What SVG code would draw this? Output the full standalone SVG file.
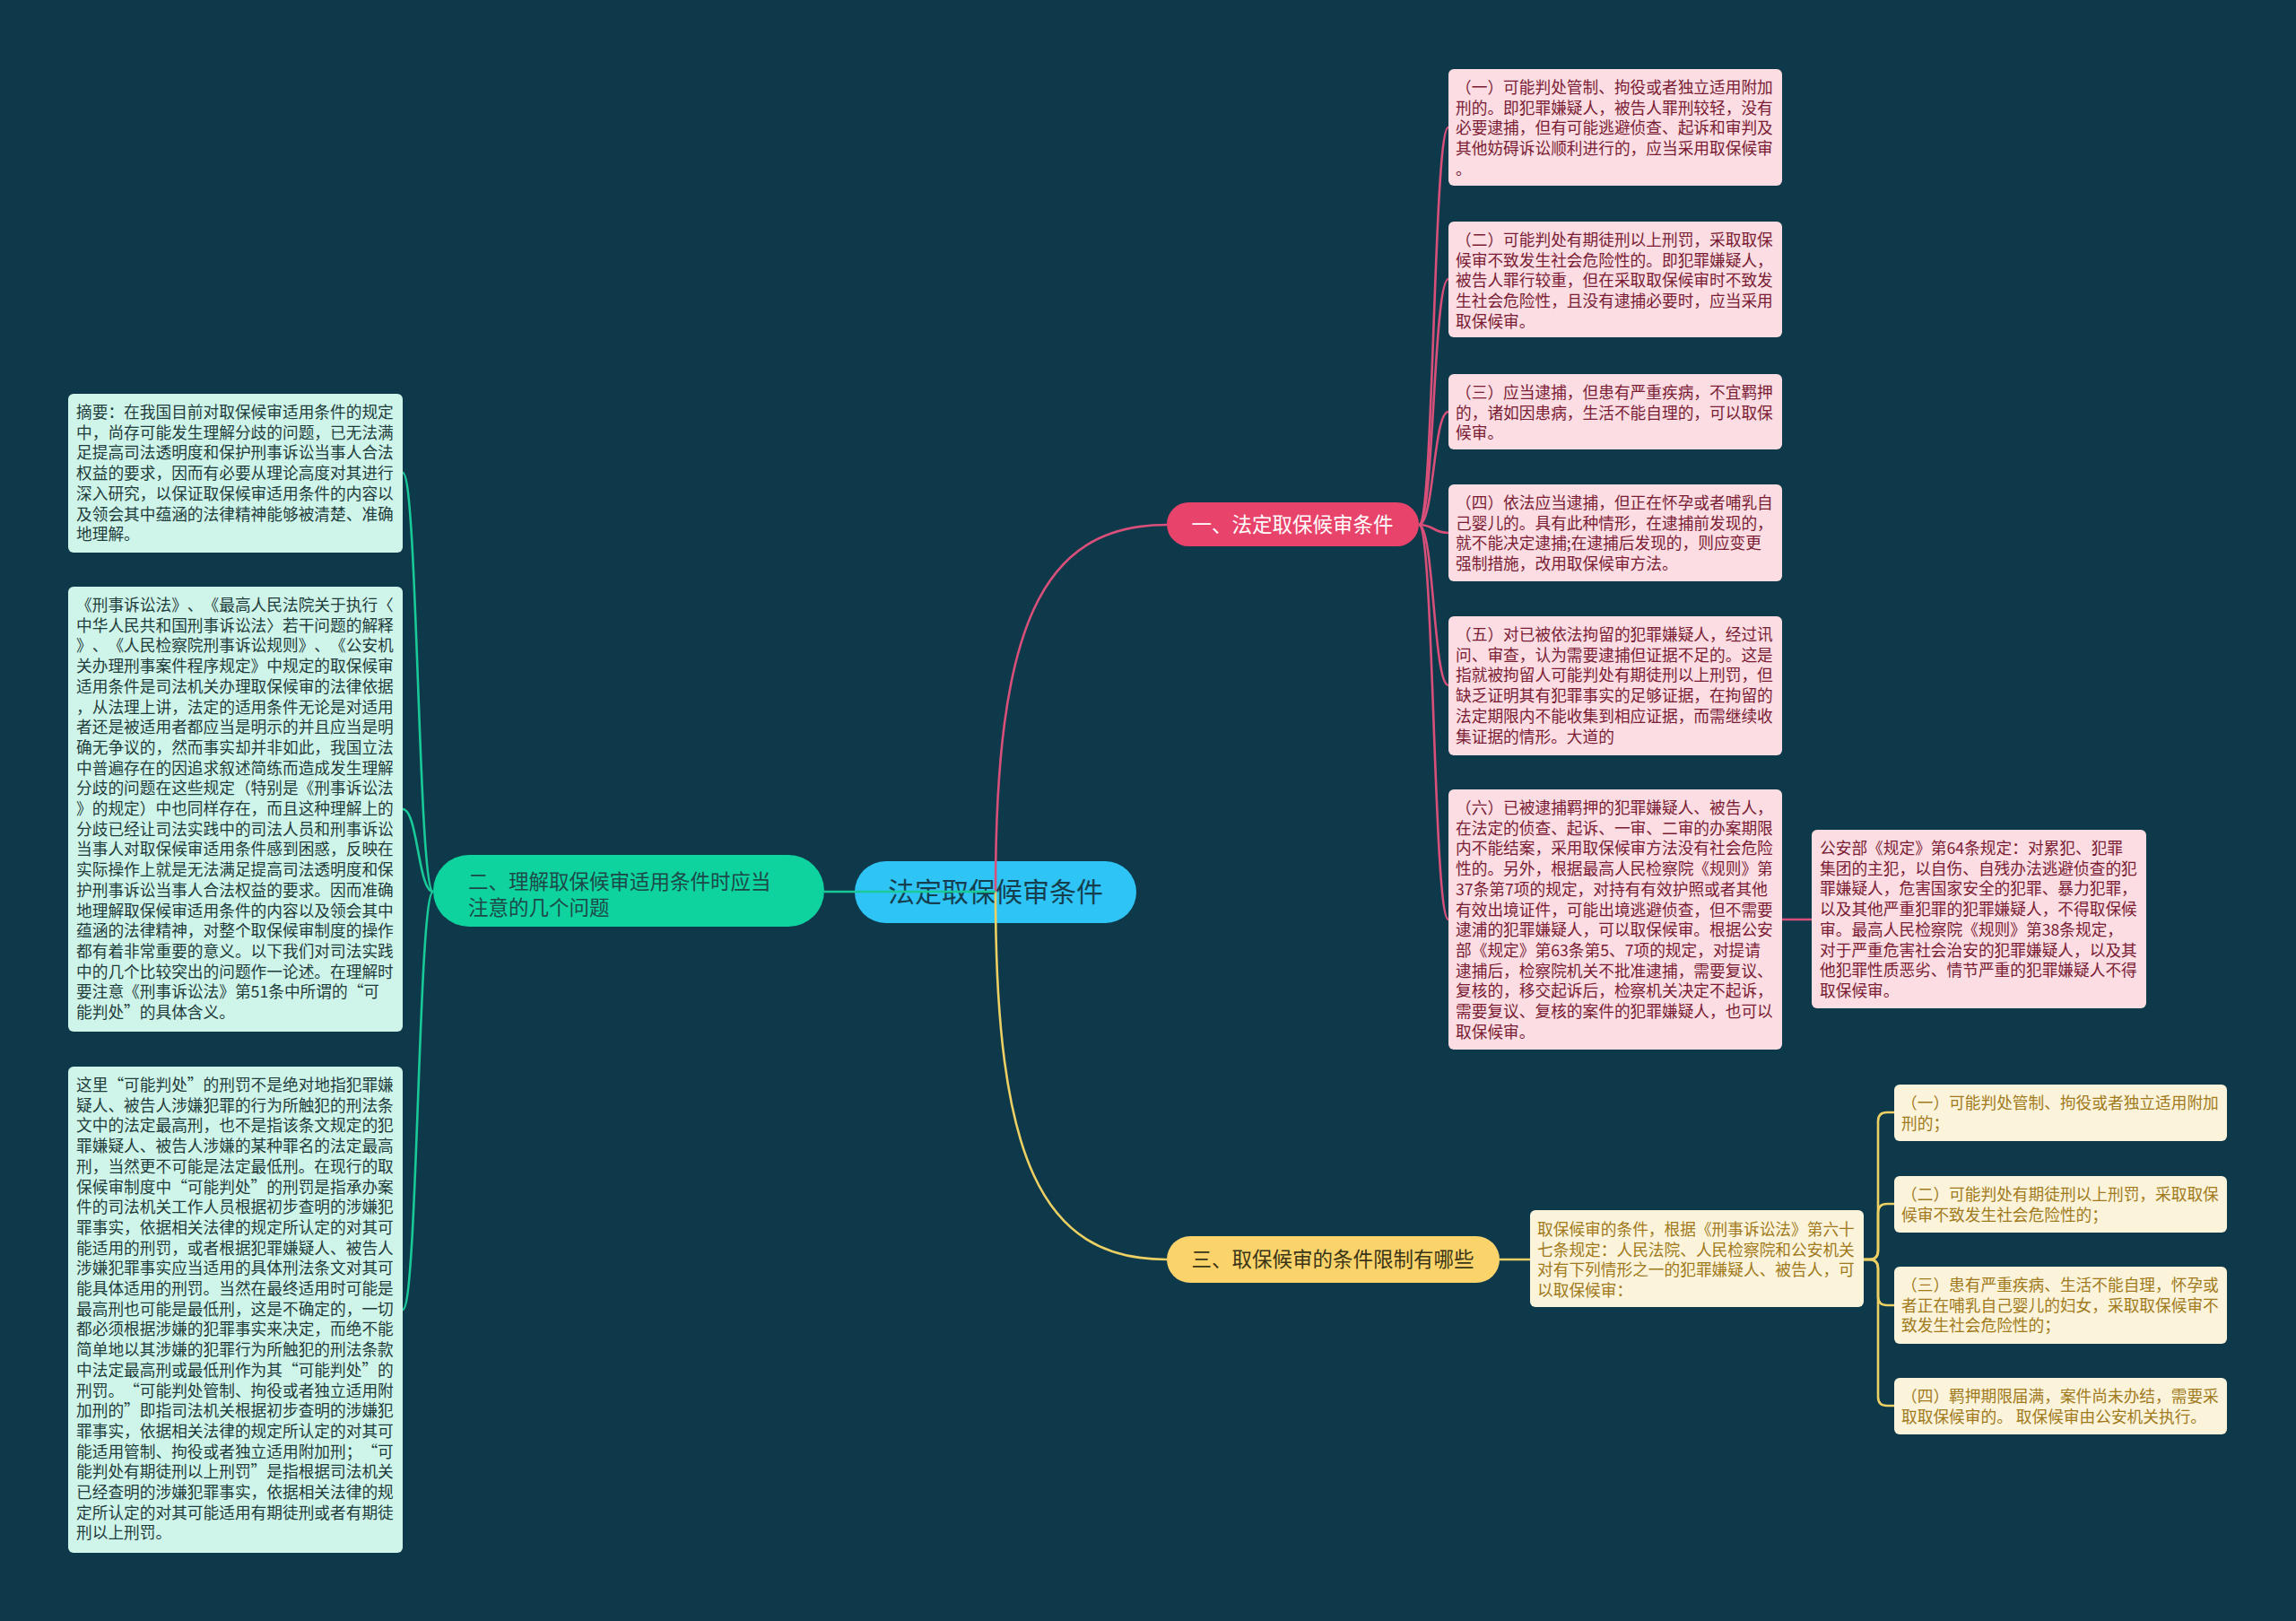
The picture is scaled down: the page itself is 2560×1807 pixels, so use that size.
<svg xmlns="http://www.w3.org/2000/svg" width="2560" height="1807" viewBox="0 0 2560 1807">
<style>
text{font-family:"Noto Sans CJK SC","Noto Sans",sans-serif;text-spacing-trim:space-all;font-kerning:none;}
.t{font-size:17.7px;}
.mint{fill:#cff5ea;}
.mint-t{fill:#1f3c3c;}
.pink{fill:#fbdde3;}
.pink-t{fill:#7a1c34;}
.cream{fill:#fcf4da;}
.cream-t{fill:#a07a1c;}
.con{fill:none;stroke-width:2.6;}
.cg{stroke:#19c998;}
.cp{stroke:#d8507a;}
.cy{stroke:#ecd063;}
</style>
<rect width="2560" height="1807" fill="#0d394b"/>

<g id="root">
<rect x="953" y="960" width="314" height="69" rx="34.5" fill="#2fc4f6"/>
<text x="1110" y="1005" font-size="30" text-anchor="middle" fill="#153f4e">法定取保候审条件</text>
</g>

<g id="b1">
<rect x="1301" y="560" width="281" height="49" rx="24.5" fill="#e8436b"/>
<text x="1441" y="593" font-size="22.5" text-anchor="middle" fill="#ffffff">一、法定取保候审条件</text>
</g>

<g id="b2">
<rect x="483" y="953" width="436" height="80" rx="40" fill="#0fd39f"/>
<text font-size="22.5" fill="#1c4a48"><tspan x="522" y="991">二、理解取保候审适用条件时应当</tspan><tspan x="522" y="1020">注意的几个问题</tspan></text>
</g>

<g id="b3">
<rect x="1301" y="1378" width="371" height="52" rx="26" fill="#fad46b"/>
<text x="1486" y="1412" font-size="22.5" text-anchor="middle" fill="#3a3416">三、取保候审的条件限制有哪些</text>
</g>

<g id="l1">
<rect class="mint" x="76" y="439" width="373" height="177" rx="6"/>
<text class="t mint-t"><tspan x="85" y="466">摘要：在我国目前对取保候审适用条件的规定</tspan><tspan x="85" dy="22.7">中，尚存可能发生理解分歧的问题，已无法满</tspan><tspan x="85" dy="22.7">足提高司法透明度和保护刑事诉讼当事人合法</tspan><tspan x="85" dy="22.7">权益的要求，因而有必要从理论高度对其进行</tspan><tspan x="85" dy="22.7">深入研究，以保证取保候审适用条件的内容以</tspan><tspan x="85" dy="22.7">及领会其中蕴涵的法律精神能够被清楚、准确</tspan><tspan x="85" dy="22.7">地理解。</tspan></text>
</g>

<g id="l2">
<rect class="mint" x="76" y="654" width="373" height="496" rx="6"/>
<text class="t mint-t"><tspan x="85" y="681">《刑事诉讼法》、《最高人民法院关于执行〈</tspan><tspan x="85" dy="22.7">中华人民共和国刑事诉讼法〉若干问题的解释</tspan><tspan x="85" dy="22.7">》、《人民检察院刑事诉讼规则》、《公安机</tspan><tspan x="85" dy="22.7">关办理刑事案件程序规定》中规定的取保候审</tspan><tspan x="85" dy="22.7">适用条件是司法机关办理取保候审的法律依据</tspan><tspan x="85" dy="22.7">，从法理上讲，法定的适用条件无论是对适用</tspan><tspan x="85" dy="22.7">者还是被适用者都应当是明示的并且应当是明</tspan><tspan x="85" dy="22.7">确无争议的，然而事实却并非如此，我国立法</tspan><tspan x="85" dy="22.7">中普遍存在的因追求叙述简练而造成发生理解</tspan><tspan x="85" dy="22.7">分歧的问题在这些规定（特别是《刑事诉讼法</tspan><tspan x="85" dy="22.7">》的规定）中也同样存在，而且这种理解上的</tspan><tspan x="85" dy="22.7">分歧已经让司法实践中的司法人员和刑事诉讼</tspan><tspan x="85" dy="22.7">当事人对取保候审适用条件感到困惑，反映在</tspan><tspan x="85" dy="22.7">实际操作上就是无法满足提高司法透明度和保</tspan><tspan x="85" dy="22.7">护刑事诉讼当事人合法权益的要求。因而准确</tspan><tspan x="85" dy="22.7">地理解取保候审适用条件的内容以及领会其中</tspan><tspan x="85" dy="22.7">蕴涵的法律精神，对整个取保候审制度的操作</tspan><tspan x="85" dy="22.7">都有着非常重要的意义。以下我们对司法实践</tspan><tspan x="85" dy="22.7">中的几个比较突出的问题作一论述。在理解时</tspan><tspan x="85" dy="22.7">要注意《刑事诉讼法》第51条中所谓的“可</tspan><tspan x="85" dy="22.7">能判处”的具体含义。</tspan></text>
</g>

<g id="l3">
<rect class="mint" x="76" y="1189" width="373" height="542" rx="6"/>
<text class="t mint-t"><tspan x="85" y="1216">这里“可能判处”的刑罚不是绝对地指犯罪嫌</tspan><tspan x="85" dy="22.7">疑人、被告人涉嫌犯罪的行为所触犯的刑法条</tspan><tspan x="85" dy="22.7">文中的法定最高刑，也不是指该条文规定的犯</tspan><tspan x="85" dy="22.7">罪嫌疑人、被告人涉嫌的某种罪名的法定最高</tspan><tspan x="85" dy="22.7">刑，当然更不可能是法定最低刑。在现行的取</tspan><tspan x="85" dy="22.7">保候审制度中“可能判处”的刑罚是指承办案</tspan><tspan x="85" dy="22.7">件的司法机关工作人员根据初步查明的涉嫌犯</tspan><tspan x="85" dy="22.7">罪事实，依据相关法律的规定所认定的对其可</tspan><tspan x="85" dy="22.7">能适用的刑罚，或者根据犯罪嫌疑人、被告人</tspan><tspan x="85" dy="22.7">涉嫌犯罪事实应当适用的具体刑法条文对其可</tspan><tspan x="85" dy="22.7">能具体适用的刑罚。当然在最终适用时可能是</tspan><tspan x="85" dy="22.7">最高刑也可能是最低刑，这是不确定的，一切</tspan><tspan x="85" dy="22.7">都必须根据涉嫌的犯罪事实来决定，而绝不能</tspan><tspan x="85" dy="22.7">简单地以其涉嫌的犯罪行为所触犯的刑法条款</tspan><tspan x="85" dy="22.7">中法定最高刑或最低刑作为其“可能判处”的</tspan><tspan x="85" dy="22.7">刑罚。“可能判处管制、拘役或者独立适用附</tspan><tspan x="85" dy="22.7">加刑的”即指司法机关根据初步查明的涉嫌犯</tspan><tspan x="85" dy="22.7">罪事实，依据相关法律的规定所认定的对其可</tspan><tspan x="85" dy="22.7">能适用管制、拘役或者独立适用附加刑；“可</tspan><tspan x="85" dy="22.7">能判处有期徒刑以上刑罚”是指根据司法机关</tspan><tspan x="85" dy="22.7">已经查明的涉嫌犯罪事实，依据相关法律的规</tspan><tspan x="85" dy="22.7">定所认定的对其可能适用有期徒刑或者有期徒</tspan><tspan x="85" dy="22.7">刑以上刑罚。</tspan></text>
</g>

<g id="p1">
<rect class="pink" x="1615" y="77" width="372" height="130" rx="6"/>
<text class="t pink-t"><tspan x="1623" y="104">（一）可能判处管制、拘役或者独立适用附加</tspan><tspan x="1623" dy="22.7">刑的。即犯罪嫌疑人，被告人罪刑较轻，没有</tspan><tspan x="1623" dy="22.7">必要逮捕，但有可能逃避侦查、起诉和审判及</tspan><tspan x="1623" dy="22.7">其他妨碍诉讼顺利进行的，应当采用取保候审</tspan><tspan x="1623" dy="22.7">。</tspan></text>
</g>

<g id="p2">
<rect class="pink" x="1615" y="247" width="372" height="129" rx="6"/>
<text class="t pink-t"><tspan x="1623" y="274">（二）可能判处有期徒刑以上刑罚，采取取保</tspan><tspan x="1623" dy="22.7">候审不致发生社会危险性的。即犯罪嫌疑人，</tspan><tspan x="1623" dy="22.7">被告人罪行较重，但在采取取保候审时不致发</tspan><tspan x="1623" dy="22.7">生社会危险性，且没有逮捕必要时，应当采用</tspan><tspan x="1623" dy="22.7">取保候审。</tspan></text>
</g>

<g id="p3">
<rect class="pink" x="1615" y="417" width="372" height="84" rx="6"/>
<text class="t pink-t"><tspan x="1623" y="444">（三）应当逮捕，但患有严重疾病，不宜羁押</tspan><tspan x="1623" dy="22.7">的，诸如因患病，生活不能自理的，可以取保</tspan><tspan x="1623" dy="22.7">候审。</tspan></text>
</g>

<g id="p4">
<rect class="pink" x="1615" y="540" width="372" height="108" rx="6"/>
<text class="t pink-t"><tspan x="1623" y="567">（四）依法应当逮捕，但正在怀孕或者哺乳自</tspan><tspan x="1623" dy="22.7">己婴儿的。具有此种情形，在逮捕前发现的，</tspan><tspan x="1623" dy="22.7">就不能决定逮捕;在逮捕后发现的，则应变更</tspan><tspan x="1623" dy="22.7">强制措施，改用取保候审方法。</tspan></text>
</g>

<g id="p5">
<rect class="pink" x="1615" y="687" width="372" height="155" rx="6"/>
<text class="t pink-t"><tspan x="1623" y="714">（五）对已被依法拘留的犯罪嫌疑人，经过讯</tspan><tspan x="1623" dy="22.7">问、审查，认为需要逮捕但证据不足的。这是</tspan><tspan x="1623" dy="22.7">指就被拘留人可能判处有期徒刑以上刑罚，但</tspan><tspan x="1623" dy="22.7">缺乏证明其有犯罪事实的足够证据，在拘留的</tspan><tspan x="1623" dy="22.7">法定期限内不能收集到相应证据，而需继续收</tspan><tspan x="1623" dy="22.7">集证据的情形。大道的</tspan></text>
</g>

<g id="p6">
<rect class="pink" x="1615" y="880" width="372" height="290" rx="6"/>
<text class="t pink-t"><tspan x="1623" y="907">（六）已被逮捕羁押的犯罪嫌疑人、被告人，</tspan><tspan x="1623" dy="22.7">在法定的侦查、起诉、一审、二审的办案期限</tspan><tspan x="1623" dy="22.7">内不能结案，采用取保候审方法没有社会危险</tspan><tspan x="1623" dy="22.7">性的。另外，根据最高人民检察院《规则》第</tspan><tspan x="1623" dy="22.7">37条第7项的规定，对持有有效护照或者其他</tspan><tspan x="1623" dy="22.7">有效出境证件，可能出境逃避侦查，但不需要</tspan><tspan x="1623" dy="22.7">逮浦的犯罪嫌疑人，可以取保候审。根据公安</tspan><tspan x="1623" dy="22.7">部《规定》第63条第5、7项的规定，对提请</tspan><tspan x="1623" dy="22.7">逮捕后，检察院机关不批准逮捕，需要复议、</tspan><tspan x="1623" dy="22.7">复核的，移交起诉后，检察机关决定不起诉，</tspan><tspan x="1623" dy="22.7">需要复议、复核的案件的犯罪嫌疑人，也可以</tspan><tspan x="1623" dy="22.7">取保候审。</tspan></text>
</g>

<g id="p7">
<rect class="pink" x="2020" y="925" width="373" height="199" rx="6"/>
<text class="t pink-t"><tspan x="2029" y="952">公安部《规定》第64条规定：对累犯、犯罪</tspan><tspan x="2029" dy="22.7">集团的主犯，以自伤、自残办法逃避侦查的犯</tspan><tspan x="2029" dy="22.7">罪嫌疑人，危害国家安全的犯罪、暴力犯罪，</tspan><tspan x="2029" dy="22.7">以及其他严重犯罪的犯罪嫌疑人，不得取保候</tspan><tspan x="2029" dy="22.7">审。最高人民检察院《规则》第38条规定，</tspan><tspan x="2029" dy="22.7">对于严重危害社会治安的犯罪嫌疑人，以及其</tspan><tspan x="2029" dy="22.7">他犯罪性质恶劣、情节严重的犯罪嫌疑人不得</tspan><tspan x="2029" dy="22.7">取保候审。</tspan></text>
</g>

<g id="ym">
<rect class="cream" x="1706" y="1349" width="372" height="108" rx="6"/>
<text class="t cream-t"><tspan x="1714" y="1377">取保候审的条件，根据《刑事诉讼法》第六十</tspan><tspan x="1714" dy="22.7">七条规定：人民法院、人民检察院和公安机关</tspan><tspan x="1714" dy="22.7">对有下列情形之一的犯罪嫌疑人、被告人，可</tspan><tspan x="1714" dy="22.7">以取保候审：</tspan></text>
</g>

<g id="y1">
<rect class="cream" x="2112" y="1209" width="371" height="63" rx="6"/>
<text class="t cream-t"><tspan x="2120" y="1236">（一）可能判处管制、拘役或者独立适用附加</tspan><tspan x="2120" dy="22.7">刑的；</tspan></text>
</g>

<g id="y2">
<rect class="cream" x="2112" y="1311" width="371" height="63" rx="6"/>
<text class="t cream-t"><tspan x="2120" y="1338">（二）可能判处有期徒刑以上刑罚，采取取保</tspan><tspan x="2120" dy="22.7">候审不致发生社会危险性的；</tspan></text>
</g>

<g id="y3">
<rect class="cream" x="2112" y="1412" width="371" height="86" rx="6"/>
<text class="t cream-t"><tspan x="2120" y="1439">（三）患有严重疾病、生活不能自理，怀孕或</tspan><tspan x="2120" dy="22.7">者正在哺乳自己婴儿的妇女，采取取保候审不</tspan><tspan x="2120" dy="22.7">致发生社会危险性的；</tspan></text>
</g>

<g id="y4">
<rect class="cream" x="2112" y="1536" width="371" height="63" rx="6"/>
<text class="t cream-t"><tspan x="2120" y="1563">（四）羁押期限届满，案件尚未办结，需要采</tspan><tspan x="2120" dy="22.7">取取保候审的。 取保候审由公安机关执行。</tspan></text>
</g>

<g id="connectors">
<path class="con cp" d="M1110,994 C1110,700 1160,585 1301,585"/>
<path class="con cy" d="M1110,994 C1110,1290 1160,1404 1301,1404"/>
<path class="con cg" d="M1110,994 L919,994"/>
<path class="con cg" d="M483,994 C466,994 466,527 449,527"/>
<path class="con cg" d="M483,994 C466,994 466,902 449,902"/>
<path class="con cg" d="M483,994 C466,994 466,1460 449,1460"/>
<path class="con cp" d="M1582,585 C1599,585 1598,142 1615,142"/>
<path class="con cp" d="M1582,585 C1599,585 1598,311 1615,311"/>
<path class="con cp" d="M1582,585 C1599,585 1598,459 1615,459"/>
<path class="con cp" d="M1582,585 C1599,585 1598,594 1615,594"/>
<path class="con cp" d="M1582,585 C1599,585 1598,764 1615,764"/>
<path class="con cp" d="M1582,585 C1599,585 1598,1025 1615,1025"/>
<path class="con cp" d="M1987,1025 L2020,1025"/>
<path class="con cy" d="M1672,1404 L1706,1404"/>
<path class="con cy" d="M2078,1404 L2084,1404 Q2094,1404 2094,1394 L2094,1250 Q2094,1240 2104,1240 L2112,1240"/>
<path class="con cy" d="M2078,1404 L2084,1404 Q2094,1404 2094,1394 L2094,1352 Q2094,1342 2104,1342 L2112,1342"/>
<path class="con cy" d="M2078,1404 L2084,1404 Q2094,1404 2094,1414 L2094,1445 Q2094,1455 2104,1455 L2112,1455"/>
<path class="con cy" d="M2078,1404 L2084,1404 Q2094,1404 2094,1414 L2094,1557 Q2094,1567 2104,1567 L2112,1567"/>
</g>
</svg>
